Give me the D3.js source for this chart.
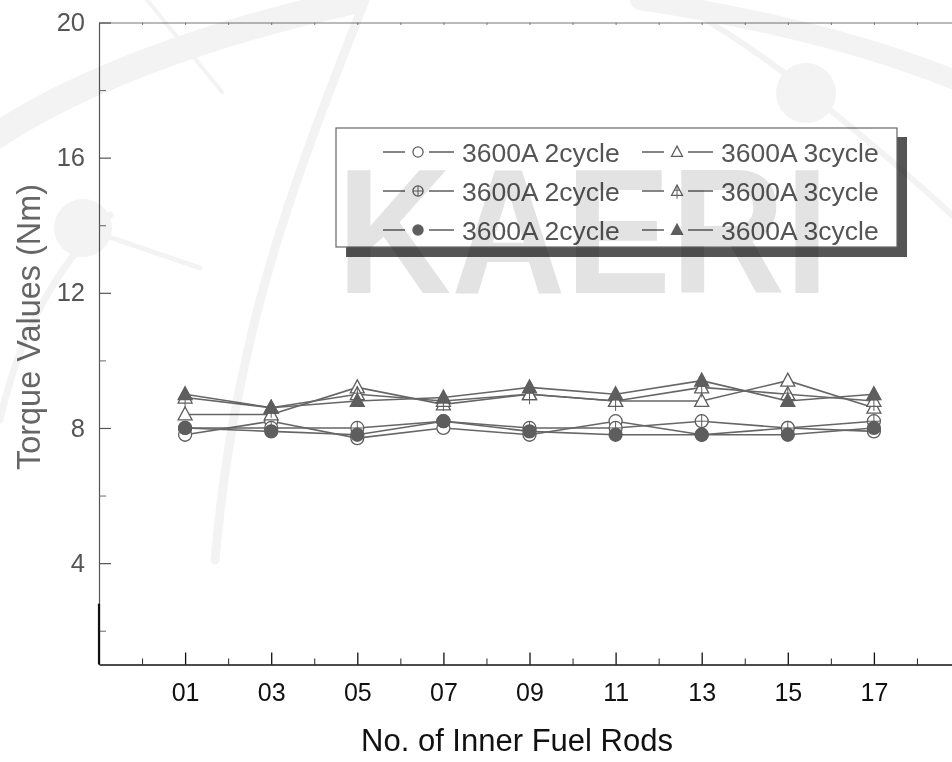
<!DOCTYPE html>
<html><head><meta charset="utf-8">
<script src="https://cdn.jsdelivr.net/npm/d3@7"></script>
<style>body{margin:0;background:#fff}svg{display:block;font-family:"Liberation Sans",Arial,sans-serif}</style>
</head><body>
<svg id="c" width="952" height="762"></svg>
<script>
// ---- data ----
const categories = ["01","03","05","07","09","11","13","15","17"];
const rodNumbers = [1,3,5,7,9,11,13,15,17];
const cycle2Open   = [7.8, 8.2, 7.7, 8.0, 7.8, 8.2, 7.8, 8.0, 7.9];
const cycle2Cross  = [8.0, 8.0, 8.0, 8.2, 8.0, 8.0, 8.2, 8.0, 8.2];
const cycle2Filled = [8.0, 7.9, 7.8, 8.2, 7.9, 7.8, 7.8, 7.8, 8.0];
const cycle3Open   = [8.4, 8.4, 9.2, 8.7, 9.0, 8.8, 8.8, 9.4, 8.6];
const cycle3Cross  = [8.9, 8.6, 9.0, 8.8, 9.0, 8.8, 9.2, 9.0, 8.8];
const cycle3Filled = [9.0, 8.6, 8.8, 8.9, 9.2, 9.0, 9.4, 8.8, 9.0];
const seriesNames  = ["3600A 2cycle","3600A 2cycle","3600A 2cycle","3600A 3cycle","3600A 3cycle","3600A 3cycle"];
const yMajorTicks = [4, 8, 12, 16, 20];
const yMinorTicks = [2, 6, 10, 14, 18];
const xMinorTicks = [0, 2, 4, 6, 8, 10, 12, 14, 16, 18];
const xTitle = "No. of Inner Fuel Rods";
const yTitle = "Torque Values (Nm)";
const watermark = "KAERI";

const series = [
  {name: seriesNames[0], values: cycle2Open,   marker: "circle"},
  {name: seriesNames[1], values: cycle2Cross,  marker: "circlePlus"},
  {name: seriesNames[2], values: cycle2Filled, marker: "circleFill"},
  {name: seriesNames[3], values: cycle3Open,   marker: "tri"},
  {name: seriesNames[4], values: cycle3Cross,  marker: "triCross"},
  {name: seriesNames[5], values: cycle3Filled, marker: "triFill"}
];

const svg = d3.select("#c");
const x = d3.scaleLinear().domain([-1, 19]).range([99, 960]);
const y = d3.scaleLinear().domain([1, 20]).range([664.5, 22.5]);
const gray = "#5e5e5e";
const FONT = "Liberation Sans, Arial, sans-serif";

// ---- axes ----
const axG = svg.append("g");
const topAx = axG.append("g").attr("transform",`translate(0,${y(20)})`)
  .call(d3.axisTop(x).tickValues(d3.range(-1,20)).tickSize(-2.5).tickSizeOuter(0).tickFormat(""));
topAx.selectAll("path,line").attr("stroke","#777");

const bot = axG.append("g").attr("transform",`translate(0,${y(1)})`)
  .call(d3.axisBottom(x).tickValues(rodNumbers).tickSize(-12).tickSizeOuter(0).tickPadding(19)
    .tickFormat((d,i)=>categories[i]));
bot.selectAll("path,line").attr("stroke","#111").attr("stroke-width",1.3);
bot.selectAll("text").attr("font-size",25).attr("fill","#111").attr("font-family",FONT);
const botMin = axG.append("g").attr("transform",`translate(0,${y(1)})`)
  .call(d3.axisBottom(x).tickValues(xMinorTicks).tickSize(-6).tickSizeOuter(0).tickFormat(""));
botMin.select("path").remove();
botMin.selectAll("line").attr("stroke","#222");

const left = axG.append("g").attr("transform",`translate(${x(-1)},0)`)
  .call(d3.axisLeft(y).tickValues(yMajorTicks).tickSize(-12).tickSizeOuter(0).tickPadding(14));
left.selectAll("path,line").attr("stroke","#555").attr("stroke-width",1.2);
left.selectAll("text").attr("font-size",25.5).attr("fill","#555").attr("font-family",FONT);
const leftMin = axG.append("g").attr("transform",`translate(${x(-1)},0)`)
  .call(d3.axisLeft(y).tickValues(yMinorTicks).tickSize(-7).tickSizeOuter(0).tickFormat(""));
leftMin.select("path").remove();
leftMin.selectAll("line").attr("stroke","#666");
axG.append("line").attr("x1",x(-1)).attr("x2",x(-1)).attr("y1",y(2.8)).attr("y2",y(1))
  .attr("stroke","#111").attr("stroke-width",2.2);

// titles
svg.append("text").attr("x",517).attr("y",751).attr("text-anchor","middle")
  .attr("font-size",31).attr("fill","#111").text(xTitle);
svg.append("text").attr("transform",`translate(40,327) rotate(-90)`)
  .attr("text-anchor","middle").attr("font-size",33).attr("fill","#666")
  .attr("textLength",286).attr("lengthAdjust","spacingAndGlyphs").text(yTitle);

// ---- markers ----
function drawMarker(g, type, s) {
  const r = 6.5*s, sw = 1.3;
  if (type.startsWith("circle")) {
    g.append("circle").attr("r",r)
      .attr("fill", type==="circleFill" ? gray : "#fff")
      .attr("stroke", gray).attr("stroke-width", sw);
    if (type==="circlePlus")
      g.append("path").attr("d",`M${-r},0H${r}M0,${-r}V${r}`).attr("stroke",gray).attr("stroke-width",1);
  } else {
    const h = 7*s;
    g.append("path").attr("d",`M0,${-7.5*s}L${h},${5.5*s}L${-h},${5.5*s}Z`)
      .attr("fill", type==="triFill" ? gray : "#fff")
      .attr("stroke", gray).attr("stroke-width", sw);
    if (type==="triCross")
      g.append("path").attr("d",`M0,${-7.5*s}V${10*s}M${-3.8*s},${-1*s}H${3.8*s}`)
        .attr("stroke",gray).attr("stroke-width",1);
  }
}

// ---- series ----
const line = d3.line().x(d=>x(d.x)).y(d=>y(d.v));
const plot = svg.append("g");
series.forEach(s => {
  const pts = rodNumbers.map((r,i)=>({x:r, v:s.values[i]}));
  plot.append("path").datum(pts).attr("d",line).attr("fill","none")
    .attr("stroke","#666").attr("stroke-width",1.6);
});
series.forEach(s => {
  rodNumbers.forEach((r,i) => {
    const g = plot.append("g").attr("transform",`translate(${x(r)},${y(s.values[i])})`);
    drawMarker(g, s.marker, 1);
  });
});

// ---- legend ----
const lg = svg.append("g");
lg.append("rect").attr("x",346).attr("y",137).attr("width",561).attr("height",120).attr("fill","#555");
lg.append("rect").attr("x",336).attr("y",128).attr("width",561).attr("height",119)
  .attr("fill","#fff").attr("stroke","#666").attr("stroke-width",1.2);
const rowsY = [152, 191, 230];
const colX = [383, 642];
series.forEach((s,i) => {
  const col = i < 3 ? 0 : 1, row = i % 3;
  const item = lg.append("g").attr("transform",`translate(${colX[col]},${rowsY[row]})`);
  item.append("path").attr("d","M0,0H22M46,0H71").attr("stroke",gray).attr("stroke-width",1.5);
  drawMarker(item.append("g").attr("transform","translate(35,0)"), s.marker, 0.78);
  item.append("text").attr("x",79).attr("y",0).attr("dy","0.36em").attr("font-size",26.5)
    .attr("fill","#555").text(s.name);
});

// ---- watermark (overlaid, multiply) ----
const wm = svg.append("g").style("mix-blend-mode","multiply");
const arcs = wm.append("g").attr("fill","none").attr("stroke","#f3f3f3").attr("stroke-linecap","round");
arcs.append("path").attr("stroke-width",26).attr("d","M-10,140 C70,85 200,35 350,2");
arcs.append("path").attr("stroke-width",7).attr("d","M0,420 C20,330 60,262 110,215");
arcs.append("path").attr("stroke-width",4).attr("d","M147,0 L222,92");
arcs.append("path").attr("stroke-width",9).attr("d","M365,0 C330,90 285,200 255,320 C238,390 224,460 215,560");
arcs.append("path").attr("stroke-width",5).attr("d","M83,228 L200,268");
arcs.append("path").attr("stroke-width",20).attr("d","M640,0 C760,18 870,45 960,82");
arcs.append("path").attr("stroke-width",6).attr("d","M690,10 C740,40 790,75 830,110 C880,150 920,185 955,218");
wm.append("circle").attr("cx",83).attr("cy",228).attr("r",29).attr("fill","#f3f3f3");
wm.append("circle").attr("cx",806).attr("cy",93).attr("r",30).attr("fill","#f3f3f3");
wm.append("text").attr("x",337).attr("y",293).attr("font-size",178).attr("font-weight","bold")
  .attr("textLength",492).attr("lengthAdjust","spacingAndGlyphs")
  .attr("fill","#e3e3e3").text(watermark);
</script>
</body></html>
